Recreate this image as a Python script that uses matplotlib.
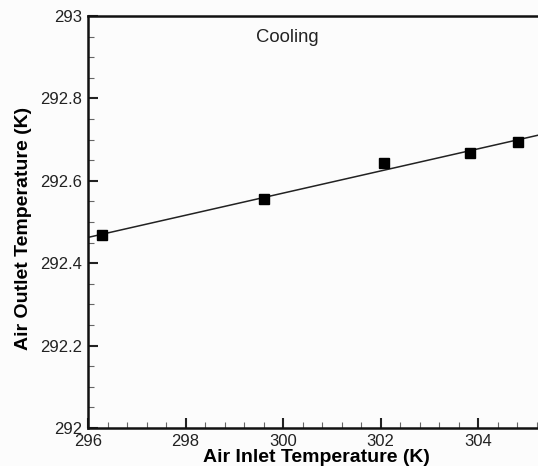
import numpy as np
import matplotlib
matplotlib.use("Agg")
import matplotlib.pyplot as plt
from matplotlib.ticker import MultipleLocator

inlet_temp = [296.29, 299.61, 302.08, 303.84, 304.83]
outlet_temp = [292.468, 292.556, 292.642, 292.668, 292.695]
x_ticks = [296, 298, 300, 302, 304]
y_ticks = [292, 292.2, 292.4, 292.6, 292.8, 293]

plt.rcParams['font.family'] = ['Liberation Sans', 'DejaVu Sans']

fig = plt.figure(figsize=(5.38, 4.66), dpi=100)
fig.patch.set_facecolor('#fcfcfc')
ax = fig.add_axes([88/538, 1-428/466, (575.5-88)/538, (428-16)/466])
ax.set_facecolor('#fcfcfc')

coef = np.polyfit(inlet_temp, outlet_temp, 1)
xf = np.array([296, 306])
ax.plot(xf, np.polyval(coef, xf), color='#222222', lw=1.1, zorder=2)
ax.plot(inlet_temp, outlet_temp, linestyle='none', marker='s', ms=7.5,
        color='black', zorder=3, clip_on=False)

ax.set_xlim(296, 306)
ax.set_ylim(292, 293)
ax.set_xticks(x_ticks)
ax.set_yticks(y_ticks)
ax.set_yticklabels(['292', '292.2', '292.4', '292.6', '292.8', '293'])
ax.xaxis.set_minor_locator(MultipleLocator(0.4))
ax.yaxis.set_minor_locator(MultipleLocator(0.05))
ax.tick_params(which='major', direction='in', length=7.5, width=1.5, labelsize=12,
               colors='#222222')
ax.tick_params(which='minor', direction='in', length=4, width=0.8, colors='#666666')
ax.tick_params(axis='y', which='major', pad=4)
ax.tick_params(axis='x', which='major', pad=4)
ax.tick_params(top=False, right=False, which='both')
for s in ax.spines.values():
    s.set_linewidth(1.8)
    s.set_color('#111111')

ax.text(300.08, 292.947, 'Cooling', fontsize=13.3, ha='center', va='center', color='#222222')
ax.set_xlabel('Air Inlet Temperature (K)', fontsize=14, fontweight='bold')
ax.set_ylabel('Air Outlet Temperature (K)', fontsize=14, fontweight='bold')
ax.xaxis.set_label_coords((316-88)/(575.5-88), -(458-428)/412)
ax.yaxis.set_label_coords((24-88)/(575.5-88), (428-228)/412)
ax.xaxis.label.set_va('center')
ax.yaxis.label.set_va('center')

fig.savefig('out.png', dpi=100, facecolor=fig.get_facecolor())
